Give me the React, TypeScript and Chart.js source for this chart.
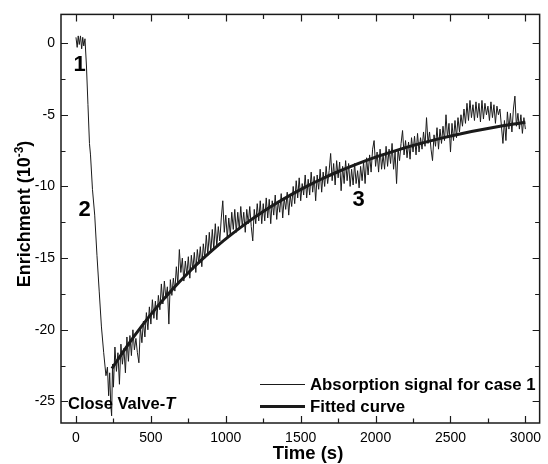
import { useEffect, useRef } from "react";
import { Chart, registerables } from "chart.js";

Chart.register(...registerables);

// ---- data ----
const SIGNAL_TIME = [
  0, 8, 15, 22, 30, 38, 45, 52, 60, 70, 80, 90, 97, 110, 125, 140, 155, 170, 185, 200,
  210, 218, 225, 232, 238, 244, 250,
  260, 270, 280, 290, 300, 310, 320, 330, 340, 350,
  360, 370, 380, 390, 400, 410, 420, 430, 440, 450,
  460, 470, 480, 490, 500, 510, 520, 530, 540, 550,
  560, 570, 580, 590, 600, 610, 620, 630, 640, 650,
  660, 670, 680, 690, 700, 710, 720, 730, 740, 750,
  760, 770, 780, 790, 800, 810, 820, 830, 840, 850,
  860, 870, 880, 890, 900, 910, 920, 930, 940, 950,
  960, 970, 980, 990, 1000, 1010, 1020, 1030, 1040, 1050,
  1060, 1070, 1080, 1090, 1100, 1110, 1120, 1130, 1140, 1150,
  1160, 1170, 1180, 1190, 1200, 1210, 1220, 1230, 1240, 1250,
  1260, 1270, 1280, 1290, 1300, 1310, 1320, 1330, 1340, 1350,
  1360, 1370, 1380, 1390, 1400, 1410, 1420, 1430, 1440, 1450,
  1460, 1470, 1480, 1490, 1500, 1510, 1520, 1530, 1540, 1550,
  1560, 1570, 1580, 1590, 1600, 1610, 1620, 1630, 1640, 1650,
  1660, 1670, 1680, 1690, 1700, 1710, 1720, 1730, 1740, 1750,
  1760, 1770, 1780, 1790, 1800, 1810, 1820, 1830, 1840, 1850,
  1860, 1870, 1880, 1890, 1900, 1910, 1920, 1930, 1940, 1950,
  1960, 1970, 1980, 1990, 2000, 2010, 2020, 2030, 2040, 2050,
  2060, 2070, 2080, 2090, 2100, 2110, 2120, 2130, 2140, 2150,
  2160, 2170, 2180, 2190, 2200, 2210, 2220, 2230, 2240, 2250,
  2260, 2270, 2280, 2290, 2300, 2310, 2320, 2330, 2340, 2350,
  2360, 2370, 2380, 2390, 2400, 2410, 2420, 2430, 2440, 2450,
  2460, 2470, 2480, 2490, 2500, 2510, 2520, 2530, 2540, 2550,
  2560, 2570, 2580, 2590, 2600, 2610, 2620, 2630, 2640, 2650,
  2660, 2670, 2680, 2690, 2700, 2710, 2720, 2730, 2740, 2750,
  2760, 2770, 2780, 2790, 2800, 2810, 2820, 2830, 2840, 2850,
  2860, 2870, 2880, 2890, 2900, 2910, 2920, 2930, 2940, 2950,
  2960, 2970, 2980, 2990, 3000,
];
const SIGNAL_VALUE = [
  0.4, -0.3, 0.5, -0.1, 0.5, -0.4, 0.4, -0.2, 0.3, -1.6, -4.3, -7.0, -7.8, -10.2, -12.0, -14.8, -17.3, -19.8, -21.6, -23.2,
  -22.6, -24.6, -23.0, -25.2, -26.0, -22.4, -24.0,
  -21.2, -22.9, -21.6, -23.8, -21.0, -22.4, -21.3, -23.0, -20.5, -22.2,
  -20.4, -21.8, -20.0, -21.4, -20.6, -21.6, -22.3, -19.8, -20.9, -19.4,
  -20.5, -18.8, -20.0, -18.4, -19.6, -17.9, -19.2, -18.0, -19.3, -17.6,
  -18.6, -16.8, -18.2, -16.6, -17.8, -17.0, -19.6, -16.5, -17.6, -16.4,
  -17.3, -15.6, -16.8, -14.4, -16.0, -15.0, -16.6, -15.2, -16.2, -14.9,
  -16.4, -14.8, -15.8, -14.6, -16.0, -14.4, -15.4, -14.2, -15.6, -14.0,
  -15.0, -13.4, -14.8, -13.2, -14.6, -13.0, -14.4, -12.6, -14.2, -12.8,
  -13.8, -12.2, -11.0, -13.2, -12.0, -13.6, -12.2, -13.4, -11.8, -13.0,
  -11.6, -13.2, -11.8, -13.0, -11.4, -12.8, -11.8, -13.2, -11.6, -12.6,
  -11.4, -12.8, -13.8, -11.6, -12.6, -11.2, -12.4, -11.0, -12.6, -11.2,
  -12.4, -10.8, -12.2, -10.9, -12.6, -11.0, -12.0, -10.6, -12.3, -11.0,
  -11.8, -10.5, -12.2, -10.8, -11.6, -10.4, -12.0, -10.6, -11.4, -10.0,
  -11.2, -9.6, -10.8, -9.4, -11.0, -9.8, -10.6, -9.2, -10.8, -9.5,
  -10.6, -9.0, -10.4, -9.3, -11.0, -9.2, -10.2, -8.8, -10.4, -9.0,
  -10.0, -8.6, -9.8, -8.9, -7.7, -9.6, -8.4, -9.9, -8.2, -9.4,
  -8.3, -10.3, -8.6, -9.8, -8.2, -9.6, -8.4, -10.0, -8.8, -9.9,
  -8.4, -9.8, -8.9, -10.1, -8.6, -9.6, -8.3, -9.8, -8.0, -9.2,
  -7.8, -9.0, -7.4, -6.8, -8.6, -7.6, -9.0, -7.4, -8.8, -7.8,
  -8.8, -7.2, -8.6, -7.4, -8.4, -7.0, -8.8, -7.6, -9.8, -7.4,
  -8.2, -7.0, -6.1, -7.8, -6.8, -8.0, -6.9, -8.1, -6.6, -7.6,
  -6.5, -7.8, -6.3, -7.6, -6.6, -7.4, -6.2, -7.2, -5.2, -7.0,
  -6.2, -7.4, -8.2, -6.4, -7.2, -5.9, -7.4, -6.0, -7.0, -5.8,
  -6.8, -5.0, -6.6, -5.6, -7.6, -5.6, -6.8, -5.4, -6.6, -5.2,
  -6.2, -5.0, -5.8, -4.6, -5.6, -4.2, -5.4, -4.0, -5.2, -4.3,
  -5.4, -4.1, -5.2, -4.2, -5.5, -4.0, -5.3, -4.2, -5.0, -4.4,
  -5.4, -4.1, -5.2, -4.3, -5.6, -4.4, -5.0, -4.6, -5.8, -7.0,
  -5.4, -6.8, -4.8, -6.0, -4.9, -6.2, -4.6, -3.7, -5.8, -4.9,
  -6.0, -5.0, -6.3, -5.2, -6.0,
];
const FIT_TIME = [
  240, 340, 440, 540, 640, 740, 840, 940, 1040, 1140, 1240, 1340, 1440, 1540, 1640,
  1740, 1840, 1940, 2040, 2140, 2240, 2340, 2440, 2540, 2640, 2740, 2840, 2940, 3000,
];
const FIT_VALUE = [
  -22.7, -21.15, -19.73, -18.42, -17.22, -16.12, -15.11, -14.18, -13.33, -12.54, -11.82, -11.16, -10.55, -9.99, -9.48,
  -9.01, -8.58, -8.18, -7.82, -7.48, -7.17, -6.89, -6.63, -6.39, -6.17, -5.97, -5.79, -5.62, -5.52,
];
const X_TICKS = [0, 500, 1000, 1500, 2000, 2500, 3000];
const X_MINOR_TICKS = [250, 750, 1250, 1750, 2250, 2750];
const Y_TICKS = [0, -5, -10, -15, -20, -25];
const Y_MINOR_TICKS = [-2.5, -7.5, -12.5, -17.5, -22.5];
const LEGEND_LABELS = ["Absorption signal for case 1", "Fitted curve"];
const STAGE_LABELS = ["1", "2", "3"];
const X_TITLE = "Time (s)";
const Y_TITLE = ["Enrichment (10", "-3", ")"];
const NOTE = ["Close Valve-", "T"];

const FONT = "'Liberation Sans', Arial, Helvetica, sans-serif";
const INK = "#1a1a1a";

export default function App() {
  const ref = useRef<HTMLCanvasElement>(null);

  useEffect(() => {
    const canvas = ref.current;
    if (!canvas) return;
    const signal = SIGNAL_TIME.map((t, i) => ({ x: t, y: SIGNAL_VALUE[i] }));
    const fit = FIT_TIME.map((t, i) => ({ x: t, y: FIT_VALUE[i] }));

    const decor = {
      id: "decor",
      afterDraw(chart: any) {
        const { ctx, chartArea: a, scales } = chart;
        const xs = scales.x;
        const ys = scales.y;
        ctx.save();
        ctx.strokeStyle = INK;
        ctx.lineWidth = 1.2;
        ctx.beginPath();
        const xt = (v: number, len: number) => {
          const p = Math.round(xs.getPixelForValue(v)) + 0.5;
          ctx.moveTo(p, a.bottom);
          ctx.lineTo(p, a.bottom - len);
          ctx.moveTo(p, a.top);
          ctx.lineTo(p, a.top + len);
        };
        const yt = (v: number, len: number) => {
          const p = Math.round(ys.getPixelForValue(v)) + 0.5;
          ctx.moveTo(a.left, p);
          ctx.lineTo(a.left + len, p);
          ctx.moveTo(a.right, p);
          ctx.lineTo(a.right - len, p);
        };
        X_TICKS.forEach((v) => xt(v, 7));
        X_MINOR_TICKS.forEach((v) => xt(v, 4.5));
        Y_TICKS.forEach((v) => yt(v, 7));
        Y_MINOR_TICKS.forEach((v) => yt(v, 4.5));
        ctx.stroke();

        // frame
        ctx.lineWidth = 1.5;
        ctx.strokeRect(a.left, a.top, a.right - a.left, a.bottom - a.top);

        ctx.fillStyle = "#000";
        ctx.textBaseline = "middle";

        // x title
        ctx.font = `bold 18.5px ${FONT}`;
        ctx.textAlign = "center";
        ctx.fillText(X_TITLE, 308, 454);

        // y title with superscript
        ctx.save();
        ctx.translate(25, 214);
        ctx.rotate(-Math.PI / 2);
        const big = `bold 18px ${FONT}`;
        const small = `bold 12px ${FONT}`;
        ctx.font = big;
        const w0 = ctx.measureText(Y_TITLE[0]).width;
        const w2 = ctx.measureText(Y_TITLE[2]).width;
        ctx.font = small;
        const w1 = ctx.measureText(Y_TITLE[1]).width;
        let sx = -(w0 + w1 + w2) / 2;
        ctx.textAlign = "left";
        ctx.font = big;
        ctx.fillText(Y_TITLE[0], sx, 0);
        sx += w0;
        ctx.font = small;
        ctx.fillText(Y_TITLE[1], sx, -5);
        sx += w1;
        ctx.font = big;
        ctx.fillText(Y_TITLE[2], sx, 0);
        ctx.restore();

        // stage labels
        ctx.font = `bold 22px ${FONT}`;
        ctx.textAlign = "center";
        const stagePos = [
          [24, -1.45],
          [57, -11.55],
          [1886, -10.86],
        ];
        STAGE_LABELS.forEach((s, i) => {
          ctx.fillText(s, xs.getPixelForValue(stagePos[i][0]), ys.getPixelForValue(stagePos[i][1]) + 1);
        });

        // note
        ctx.textAlign = "left";
        ctx.font = `bold 16.5px ${FONT}`;
        const nx = a.left + 7;
        const ny = a.bottom - 19;
        ctx.fillText(NOTE[0], nx, ny);
        const nw = ctx.measureText(NOTE[0]).width;
        ctx.font = `italic bold 16.5px ${FONT}`;
        ctx.fillText(NOTE[1], nx + nw, ny);

        // legend
        const lx0 = 260;
        const lx1 = 305;
        const rows = [384, 406];
        const widths = [1, 3];
        rows.forEach((ry, i) => {
          ctx.beginPath();
          ctx.lineWidth = widths[i];
          ctx.strokeStyle = INK;
          ctx.moveTo(lx0, ry + 0.5);
          ctx.lineTo(lx1, ry + 0.5);
          ctx.stroke();
          ctx.font = `bold 16.8px ${FONT}`;
          ctx.fillText(LEGEND_LABELS[i], 310, ry + 1);
        });
        ctx.restore();
      },
    };

    const tickFont = { family: FONT, size: 14 };
    const chart = new Chart(canvas, {
      type: "line",
      data: {
        datasets: [
          {
            label: LEGEND_LABELS[1],
            data: fit,
            borderColor: INK,
            borderWidth: 3,
            pointRadius: 0,
            cubicInterpolationMode: "monotone",
            order: 0,
          },
          {
            label: LEGEND_LABELS[0],
            data: signal,
            borderColor: INK,
            borderWidth: 1,
            pointRadius: 0,
            tension: 0,
            order: 1,
          },
        ],
      },
      options: {
        animation: false,
        responsive: false,
        devicePixelRatio: 1,
        layout: { padding: { top: 14, right: 1, left: 0, bottom: 0 } },
        plugins: { legend: { display: false }, tooltip: { enabled: false } },
        scales: {
          x: {
            type: "linear",
            min: -100,
            max: 3095,
            grid: { display: false, drawTicks: false },
            border: { display: false },
            afterBuildTicks: (s: any) => {
              s.ticks = X_TICKS.map((v) => ({ value: v }));
            },
            afterFit: (s: any) => {
              s.height = 41;
            },
            ticks: {
              padding: 7,
              color: "#000",
              font: tickFont,
              maxRotation: 0,
              autoSkip: false,
              callback: (v: any) => String(v),
            },
          },
          y: {
            type: "linear",
            min: -26.5,
            max: 2,
            grid: { display: false, drawTicks: false },
            border: { display: false },
            afterBuildTicks: (s: any) => {
              s.ticks = Y_TICKS.map((v) => ({ value: v }));
            },
            afterFit: (s: any) => {
              s.width = 61;
            },
            ticks: {
              padding: 6,
              color: "#000",
              font: tickFont,
              autoSkip: false,
              callback: (v: any) => String(v),
            },
          },
        },
      } as any,
      plugins: [decor],
    });
    return () => chart.destroy();
  }, []);

  return (
    <div style={{ position: "absolute", left: 0, top: 0, width: 548, height: 464, background: "#fff" }}>
      <canvas ref={ref} width={548} height={464} style={{ display: "block" }} />
    </div>
  );
}
